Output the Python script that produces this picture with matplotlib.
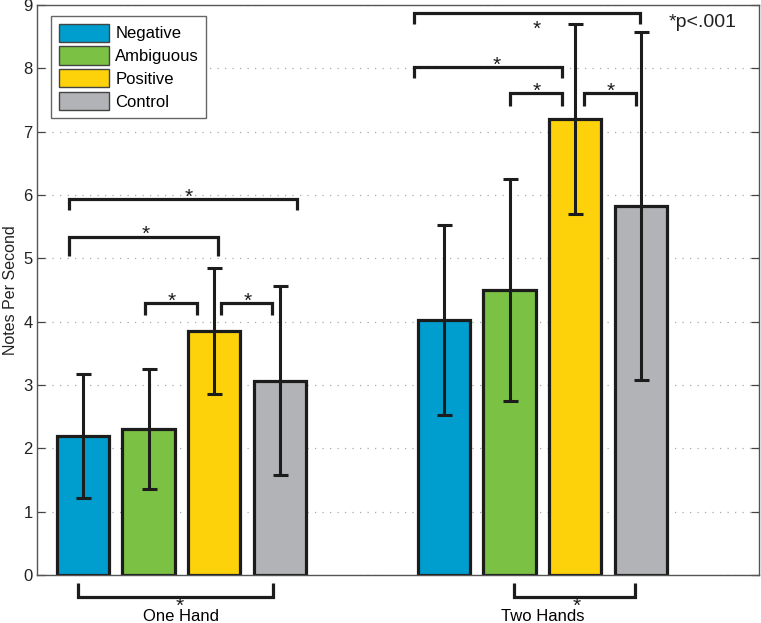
import numpy as np
import matplotlib
matplotlib.use('Agg')
import matplotlib.pyplot as plt

plt.rcParams['font.family'] = ['Liberation Sans', 'DejaVu Sans']

# data
groups = ['One Hand', 'Two Hands']
conditions = ['Negative', 'Ambiguous', 'Positive', 'Control']
colors = ['#009ece', '#7bc143', '#fdd20a', '#b1b3b6']
means = np.array([[2.20, 2.31, 3.85, 3.07],
                  [4.03, 4.50, 7.20, 5.83]])
errs = np.array([[0.98, 0.95, 0.99, 1.49],
                 [1.50, 1.75, 1.50, 2.75]])

# significance brackets: (x_left, x_right, y_line, y_leg_end, star_x, star_below)
brackets = [
    (0.689, 1.319, 5.93, 5.76, 1.020, False),
    (0.689, 1.102, 5.34, 5.04, 0.901, False),
    (0.899, 1.042, 4.29, 4.11, 0.972, False),
    (1.110, 1.252, 4.29, 4.11, 1.183, False),
    (1.644, 2.270, 8.88, 8.70, 1.985, True),
    (1.644, 2.054, 8.02, 7.85, 1.874, False),
    (1.910, 2.054, 7.61, 7.41, 1.984, False),
    (2.115, 2.259, 7.61, 7.41, 2.190, False),
    (0.714, 1.254, -0.35, -0.13, 0.996, True),
    (1.921, 2.256, -0.35, -0.13, 2.096, True),
]

n = len(conditions)
gw = n / (n + 1.5)
bw = 0.8 * gw / n
x = np.arange(1, len(groups) + 1)
ink = '#1c1c1c'

fig = plt.figure(figsize=(7.61, 6.23), dpi=100)
ax = fig.add_axes([37 / 761, 48 / 623, 722 / 761, 570 / 623])

for i in range(n):
    xi = x + (i - (n - 1) / 2) * gw / n
    ax.bar(xi, means[:, i], width=bw, color=colors[i], edgecolor=ink,
           linewidth=2.3, label=conditions[i], zorder=2)
    ax.errorbar(xi, means[:, i], yerr=errs[:, i], fmt='none', ecolor=ink,
                elinewidth=2.2, capsize=5.4, capthick=2.2, zorder=3)

for x0, x1, yl, ye, sx, below in brackets:
    ax.plot([x0, x0, x1, x1], [ye, yl, yl, ye], color=ink, lw=2.3,
            solid_capstyle='butt', solid_joinstyle='miter', clip_on=False, zorder=4)
    off = -16 if below else -2.5
    if yl < 0:
        off = -10.5
    ax.annotate('*', (sx, yl), xytext=(0, off), textcoords='offset points',
                ha='center', va='baseline', fontsize=15, color=ink,
                annotation_clip=False)

ax.text(0.875, 0.97, '*p<.001', transform=ax.transAxes, fontsize=14,
        ha='left', va='center', color='#222222')

ax.set_xlim(0.6, 2.6)
ax.set_ylim(0, 9)
ax.set_yticks(range(10))
ax.set_xticks(x)
ax.set_xticklabels(groups, fontsize=12)
ax.tick_params(axis='x', length=0, pad=24.5)
ax.tick_params(axis='y', direction='in', length=5.5, width=0.9, colors='#444444',
               labelcolor='#222222', labelsize=12, pad=3, right=True)
ax.set_ylabel('Notes Per Second', fontsize=11.5, color='#222222')
ax.yaxis.set_label_coords(-0.027, 0.5)

ax.yaxis.grid(True, linestyle=(0, (1, 5)), color='#aaaaaa', linewidth=0.9)
ax.set_axisbelow(True)
for s in ax.spines.values():
    s.set_color('#555555')
    s.set_linewidth(1.0)

leg = ax.legend(loc='upper left', bbox_to_anchor=(14 / 722, 1 - 11 / 570),
                borderaxespad=0, fontsize=12, handlelength=3.0, handleheight=1.3,
                labelspacing=0.28, handletextpad=0.4, borderpad=0.45,
                fancybox=False, framealpha=1)
leg.get_frame().set_edgecolor('#666666')
leg.get_frame().set_linewidth(1.0)
for h in leg.get_patches():
    h.set_linewidth(1.0)
    h.set_edgecolor('#444444')

fig.savefig('out.png', dpi=100)
